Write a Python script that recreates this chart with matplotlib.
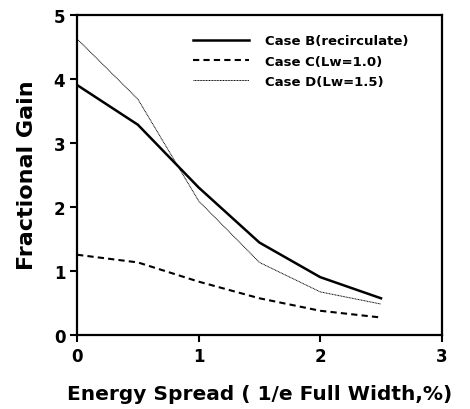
import matplotlib
matplotlib.use('Agg')
import matplotlib.pyplot as plt
from matplotlib.ticker import MultipleLocator

plt.rcParams['font.family'] = ['DejaVu Sans']

# energy spread (1/e full width, %)
spread = [0.0, 0.5, 1.0, 1.5, 2.0, 2.5]
# fractional gain for each case
caseB = [3.90, 3.28, 2.30, 1.44, 0.90, 0.57]
caseC = [1.25, 1.13, 0.83, 0.57, 0.375, 0.27]
caseD = [4.62, 3.68, 2.09, 1.13, 0.67, 0.48]

fig = plt.figure(figsize=(4.7, 4.1), dpi=100)
ax = fig.add_axes([0.164, 0.181, 0.776, 0.781])

ax.plot(spread, caseB, color='black', linewidth=1.8, label='Case B(recirculate)')
ax.plot(spread, caseC, color='black', linewidth=1.5, linestyle=(0, (3, 2)), label='Case C(Lw=1.0)')
ax.plot(spread, caseD, color='black', linewidth=0.7, linestyle=(0, (1, 0.6)), label='Case D(Lw=1.5)')

ax.set_xlim(0, 3)
ax.set_ylim(0, 5)
ax.xaxis.set_major_locator(MultipleLocator(1))
ax.yaxis.set_major_locator(MultipleLocator(1))
ax.tick_params(direction='out', length=5, width=1.5, labelsize=12)
for lbl in ax.get_xticklabels() + ax.get_yticklabels():
    lbl.set_fontweight('bold')
for s in ax.spines.values():
    s.set_linewidth(1.6)

ax.set_xlabel('Energy Spread ( 1/e Full Width,%)', fontsize=14.5, fontweight='bold', labelpad=14)
ax.set_ylabel('Fractional Gain', fontsize=16, fontweight='bold', labelpad=12)

leg = ax.legend(loc='upper right', frameon=False, handlelength=4.2,
                bbox_to_anchor=(0.94, 0.975), labelspacing=0.55, handletextpad=1.2,
                prop={'size': 9.5, 'weight': 'bold'})

fig.savefig('out.png', dpi=100)
